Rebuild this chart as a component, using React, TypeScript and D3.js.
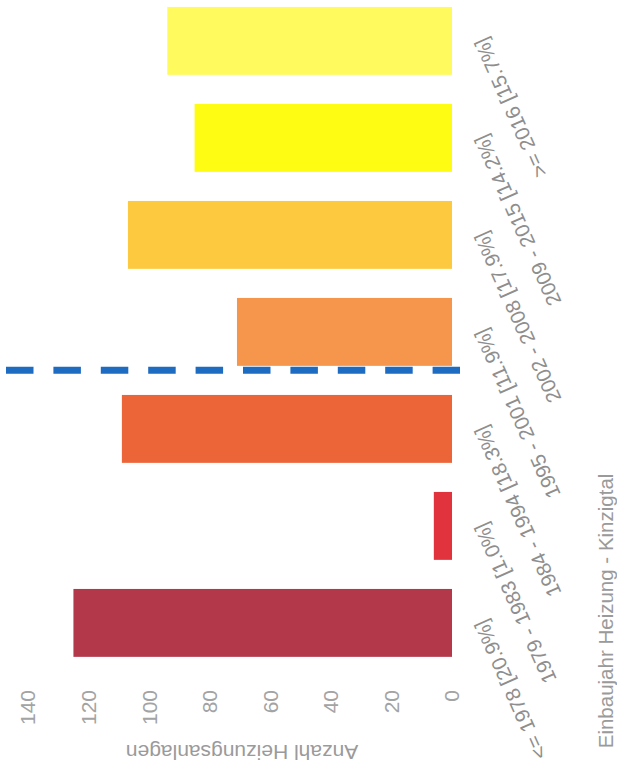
import React from "react";
import * as d3 from "d3";

const categories = [
  "<= 1978 [20.9%]",
  "1979 - 1983 [1.0%]",
  "1984 - 1994 [18.3%]",
  "1995 - 2001 [11.9%]",
  "2002 - 2008 [17.9%]",
  "2009 - 2015 [14.2%]",
  ">= 2016 [15.7%]",
];
const values = [125, 6, 109, 71, 107, 85, 94];
const barColors = ["#b3394a", "#e0333e", "#ec6539", "#f6954c", "#fdca3f", "#fffc14", "#fffb5e"];
const tickValues = [0, 20, 40, 60, 80, 100, 120, 140];
const valueTitle = "Anzahl Heizungsanlagen";
const categoryTitle = "Einbaujahr Heizung - Kinzigtal";
const markerBelowCategory = "1995 - 2001 [11.9%]";

const W = 617;
const H = 778;
const FONT = "'Liberation Sans', Arial, sans-serif";

export default function App() {
  const x = d3.scaleLinear().domain([0, 140]).range([452, 28]);
  const y = d3
    .scaleBand<string>()
    .domain([...categories].reverse())
    .range([-7.6, 671.4])
    .paddingInner(0.3)
    .paddingOuter(0.15);
  const bw = y.bandwidth();
  const lineY = (y(markerBelowCategory) as number) + bw + 4.5;

  return (
    <svg
      width={W}
      height={H}
      style={{ position: "absolute", left: 0, top: 0, background: "#fff" }}
      fontFamily={FONT}
    >
      {categories.map((c, i) => (
        <rect
          key={c}
          x={x(values[i])}
          y={y(c)}
          width={x(0) - x(values[i])}
          height={bw}
          fill={barColors[i]}
        />
      ))}
      <line
        x1={x(140) - 22}
        x2={x(0) + 8}
        y1={lineY}
        y2={lineY}
        stroke="#1e6cc2"
        strokeWidth={7}
        strokeDasharray="27.5,19.9"
      />
      {tickValues.map((t) => (
        <text
          key={t}
          transform={`translate(${x(t)},690) rotate(-90)`}
          textAnchor="end"
          dy="0.35em"
          fontSize={21}
          fill="#a3a3a3"
        >
          {t}
        </text>
      ))}
      <text
        transform={`translate(${(x(0) + x(140)) / 2 + 2},745) rotate(180)`}
        textAnchor="middle"
        fontSize={21}
        fill="#9a9a9a"
      >
        {valueTitle}
      </text>
      {categories.map((c) => (
        <text
          key={c + "-l"}
          transform={`translate(480,${(y(c) as number) + bw / 2 - 2}) rotate(-114)`}
          textAnchor="end"
          dy="0.35em"
          fontSize={20.5}
          fill="#8e8e8e"
        >
          {c}
        </text>
      ))}
      <text
        transform={`translate(612.5,${(y(categories[0]) as number) + 22}) rotate(-90)`}
        textAnchor="middle"
        fontSize={20.5}
        fill="#9a9a9a"
      >
        {categoryTitle}
      </text>
    </svg>
  );
}
